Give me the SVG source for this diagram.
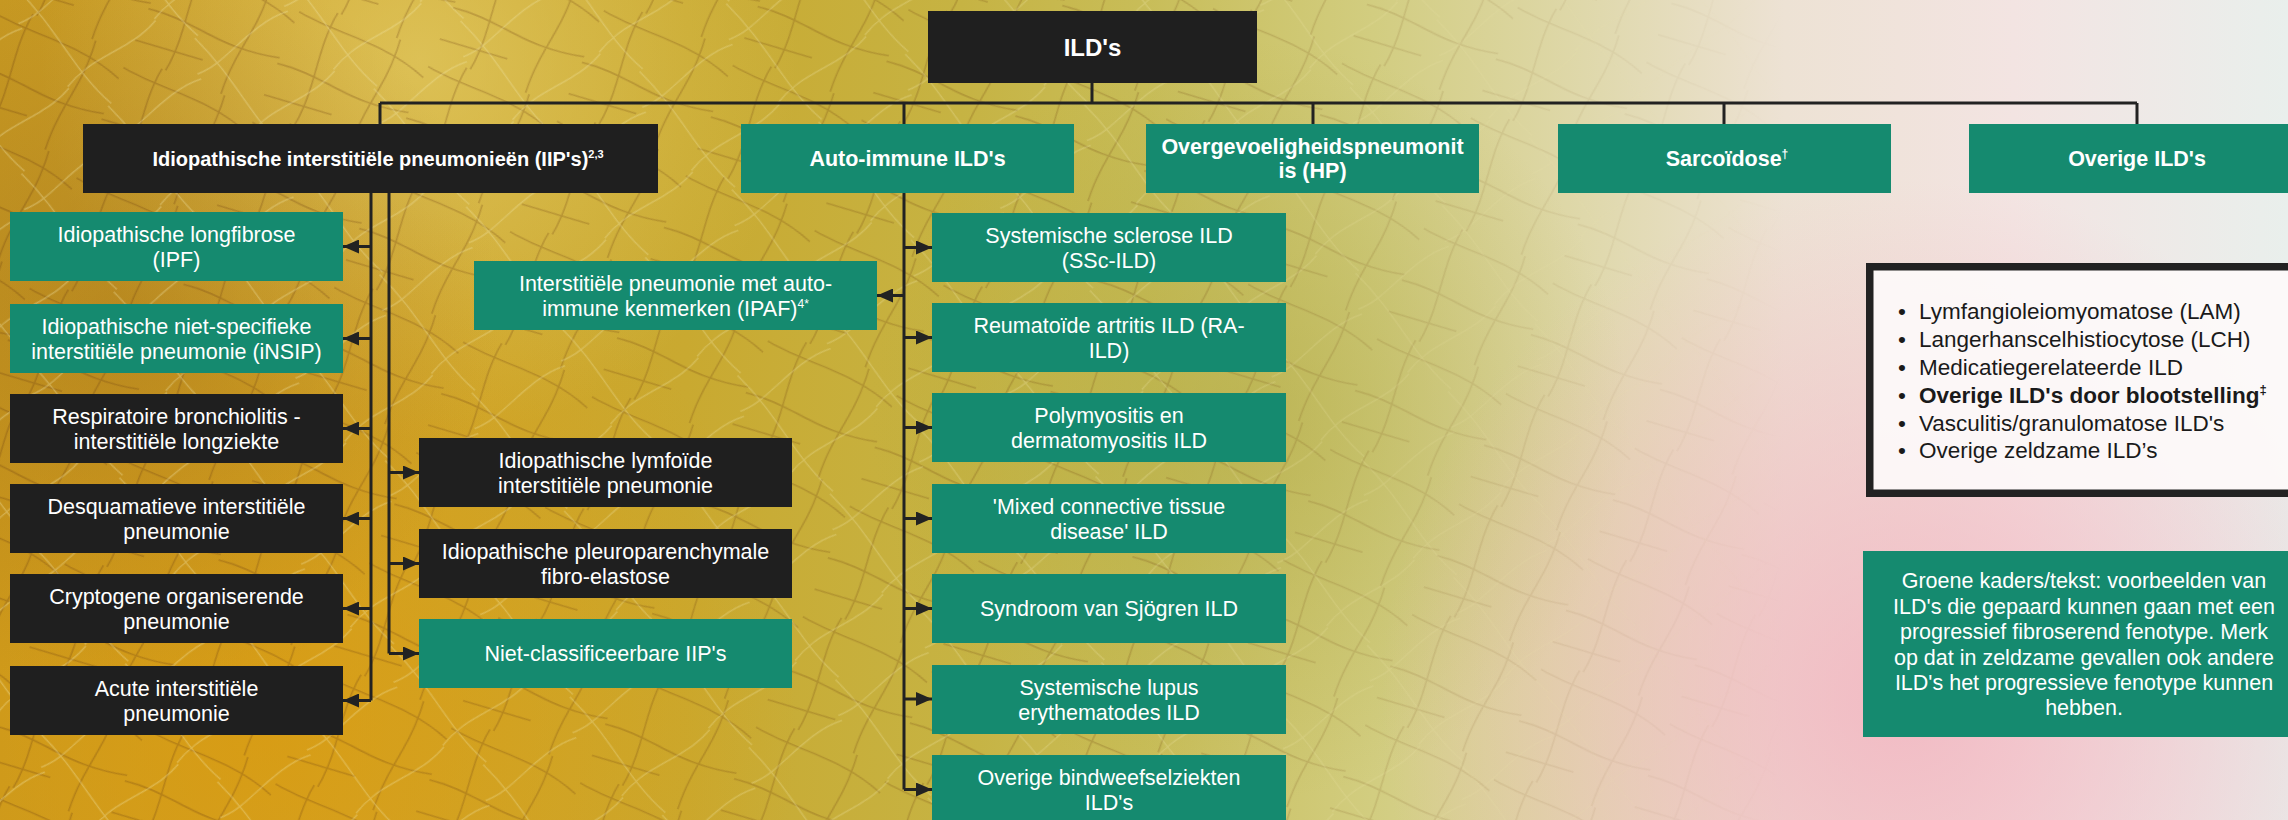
<svg xmlns="http://www.w3.org/2000/svg" width="2288" height="820" viewBox="0 0 2288 820">
<defs>
<style>
.t{font-family:"Liberation Sans",Arial,sans-serif;fill:#ffffff;font-size:21.5px;text-anchor:middle}
.b{font-weight:bold}
.g{fill:#158a6f}
.k{fill:#1f1f1f}
.c{stroke:#222222;stroke-width:3;fill:none}
.ca{stroke:#222222;stroke-width:3;fill:none;marker-end:url(#ah)}
.sup{font-size:12px}
.li{font-family:"Liberation Sans",Arial,sans-serif;fill:#1a1a1a;font-size:22.5px}
</style>
<marker id="ah" viewBox="0 0 16 14" refX="16" refY="7" markerWidth="16" markerHeight="14" markerUnits="userSpaceOnUse" orient="auto">
<path d="M0,0 L16,7 L0,14 z" fill="#222222"/>
</marker>
<linearGradient id="bg" x1="0" y1="0" x2="1" y2="0">
<stop offset="0" stop-color="#c89a22"/>
<stop offset="0.15" stop-color="#cfa52c"/>
<stop offset="0.3" stop-color="#c9a930"/>
<stop offset="0.42" stop-color="#c6b343"/>
<stop offset="0.5" stop-color="#c8bd58"/>
<stop offset="0.6" stop-color="#d2cd80"/>
<stop offset="0.7" stop-color="#e0d9ae"/>
<stop offset="0.78" stop-color="#ede2d4"/>
<stop offset="0.88" stop-color="#f3e4e2"/>
<stop offset="1" stop-color="#e9efec"/>
</linearGradient>
<radialGradient id="pink" cx="1900" cy="700" r="520" gradientUnits="userSpaceOnUse">
<stop offset="0" stop-color="#f2b4c0" stop-opacity="0.85"/>
<stop offset="1" stop-color="#f2b4c0" stop-opacity="0"/>
</radialGradient>
<radialGradient id="orange" cx="260" cy="720" r="540" gradientUnits="userSpaceOnUse">
<stop offset="0" stop-color="#dc9a0c" stop-opacity="0.7"/>
<stop offset="1" stop-color="#dc9a0c" stop-opacity="0"/>
</radialGradient>
<radialGradient id="brown" cx="120" cy="320" r="380" gradientUnits="userSpaceOnUse">
<stop offset="0" stop-color="#9a6a1c" stop-opacity="0.4"/>
<stop offset="1" stop-color="#9a6a1c" stop-opacity="0"/>
</radialGradient>
<radialGradient id="lighty" cx="420" cy="60" r="380" gradientUnits="userSpaceOnUse">
<stop offset="0" stop-color="#e6d270" stop-opacity="0.6"/>
<stop offset="1" stop-color="#e6d270" stop-opacity="0"/>
</radialGradient>
<radialGradient id="olive" cx="1250" cy="420" r="380" gradientUnits="userSpaceOnUse">
<stop offset="0" stop-color="#a9a238" stop-opacity="0.45"/>
<stop offset="1" stop-color="#a9a238" stop-opacity="0"/>
</radialGradient>
<pattern id="tex" width="140" height="120" patternUnits="userSpaceOnUse" patternTransform="rotate(23)">
<path d="M0,14 C40,20 90,8 140,26 M0,70 C50,62 80,80 140,64 M36,0 C30,40 46,80 40,120 M104,0 C110,50 96,70 100,120 M0,104 L70,96" stroke="#6e4010" stroke-width="1.6" fill="none" opacity="0.3"/>
</pattern>
<pattern id="tex2" width="110" height="150" patternUnits="userSpaceOnUse" patternTransform="rotate(-38)">
<path d="M0,30 C30,40 70,22 110,36 M20,0 C28,60 14,100 24,150 M0,110 C40,100 70,120 110,112" stroke="#f4e9b0" stroke-width="1.4" fill="none" opacity="0.35"/>
</pattern>
<linearGradient id="texfade" x1="0" y1="0" x2="1" y2="0">
<stop offset="0" stop-color="#ffffff" stop-opacity="1"/>
<stop offset="0.5" stop-color="#ffffff" stop-opacity="0.75"/>
<stop offset="0.78" stop-color="#ffffff" stop-opacity="0"/>
</linearGradient>
<mask id="texmask"><rect x="0" y="0" width="2288" height="820" fill="url(#texfade)"/></mask>
</defs>

<g id="background">
<rect x="0" y="0" width="2288" height="820" fill="url(#bg)"/>
<rect x="0" y="0" width="2288" height="820" fill="url(#lighty)"/>
<rect x="0" y="0" width="2288" height="820" fill="url(#olive)"/>
<rect x="0" y="0" width="2288" height="820" fill="url(#orange)"/>
<rect x="0" y="0" width="2288" height="820" fill="url(#brown)"/>
<rect x="0" y="0" width="2288" height="820" fill="url(#pink)"/>
<rect x="0" y="0" width="2288" height="820" fill="url(#tex)" mask="url(#texmask)"/>
<rect x="0" y="0" width="2288" height="820" fill="url(#tex2)" mask="url(#texmask)"/>
</g>

<g id="connectors">
<path class="c" d="M1092,83 V103"/>
<path class="c" d="M380,103 H2137"/>
<path class="c" d="M380,103 V124 M904,103 V124 M1313,103 V124 M1724,103 V124 M2137,103 V124"/>
<path class="c" d="M371,193 V700.5"/>
<path class="ca" d="M371,246.5 H343"/>
<path class="ca" d="M371,338.5 H343"/>
<path class="ca" d="M371,428.5 H343"/>
<path class="ca" d="M371,518.5 H343"/>
<path class="ca" d="M371,608.5 H343"/>
<path class="ca" d="M371,700.5 H343"/>
<path class="c" d="M389,193 V653.5"/>
<path class="ca" d="M389,472.5 H419"/>
<path class="ca" d="M389,563.5 H419"/>
<path class="ca" d="M389,653.5 H419"/>
<path class="c" d="M904,193 V789.5"/>
<path class="ca" d="M904,295.5 H877"/>
<path class="ca" d="M904,247.5 H932"/>
<path class="ca" d="M904,337.5 H932"/>
<path class="ca" d="M904,427.5 H932"/>
<path class="ca" d="M904,518.5 H932"/>
<path class="ca" d="M904,608.5 H932"/>
<path class="ca" d="M904,699 H932"/>
<path class="ca" d="M904,789.5 H932"/>
</g>

<g id="root">
<rect class="k" x="928" y="11" width="329" height="72"/>
<text class="t b" x="1092.5" y="56" style="font-size:24px">ILD's</text>
</g>

<g id="iip">
<rect class="k" x="83" y="124" width="575" height="69"/>
<text class="t b" x="378" y="165.5" style="font-size:20px">Idiopathische interstitiële pneumonieën (IIP's)<tspan style="font-size:11px" dy="-8">2,3</tspan></text>
</g>
<g id="auto">
<rect class="g" x="741" y="124" width="333" height="69"/>
<text class="t b" x="907.5" y="165.5">Auto-immune ILD's</text>
</g>
<g id="hp">
<rect class="g" x="1146" y="124" width="333" height="69"/>
<text class="t b" x="1312.5" y="153.5">Overgevoeligheidspneumonit</text>
<text class="t b" x="1312.5" y="177.5">is (HP)</text>
</g>
<g id="sarc">
<rect class="g" x="1558" y="124" width="333" height="69"/>
<text class="t b" x="1727" y="165.5">Sarcoïdose<tspan class="sup" dy="-8">†</tspan></text>
</g>
<g id="overige">
<rect class="g" x="1969" y="124" width="336" height="69"/>
<text class="t b" x="2137" y="165.5">Overige ILD's</text>
</g>

<g id="ipf">
<rect class="g" x="10" y="212" width="333" height="69"/>
<text class="t" x="176.5" y="242">Idiopathische longfibrose</text>
<text class="t" x="176.5" y="266.5">(IPF)</text>
</g>
<g id="insip">
<rect class="g" x="10" y="304" width="333" height="69"/>
<text class="t" x="176.5" y="334">Idiopathische niet-specifieke</text>
<text class="t" x="176.5" y="358.5">interstitiële pneumonie (iNSIP)</text>
</g>
<g id="rbild">
<rect class="k" x="10" y="394" width="333" height="69"/>
<text class="t" x="176.5" y="424">Respiratoire bronchiolitis -</text>
<text class="t" x="176.5" y="448.5">interstitiële longziekte</text>
</g>
<g id="dip">
<rect class="k" x="10" y="484" width="333" height="69"/>
<text class="t" x="176.5" y="514">Desquamatieve interstitiële</text>
<text class="t" x="176.5" y="538.5">pneumonie</text>
</g>
<g id="cop">
<rect class="k" x="10" y="574" width="333" height="69"/>
<text class="t" x="176.5" y="604">Cryptogene organiserende</text>
<text class="t" x="176.5" y="628.5">pneumonie</text>
</g>
<g id="aip">
<rect class="k" x="10" y="666" width="333" height="69"/>
<text class="t" x="176.5" y="696">Acute interstitiële</text>
<text class="t" x="176.5" y="720.5">pneumonie</text>
</g>

<g id="ilip">
<rect class="k" x="419" y="438" width="373" height="69"/>
<text class="t" x="605.5" y="468">Idiopathische lymfoïde</text>
<text class="t" x="605.5" y="492.5">interstitiële pneumonie</text>
</g>
<g id="ippfe">
<rect class="k" x="419" y="529" width="373" height="69"/>
<text class="t" x="605.5" y="559">Idiopathische pleuroparenchymale</text>
<text class="t" x="605.5" y="583.5">fibro-elastose</text>
</g>
<g id="niet">
<rect class="g" x="419" y="619" width="373" height="69"/>
<text class="t" x="605.5" y="661">Niet-classificeerbare IIP's</text>
</g>

<g id="ipaf">
<rect class="g" x="474" y="261" width="403" height="69"/>
<text class="t" x="675.5" y="291">Interstitiële pneumonie met auto-</text>
<text class="t" x="675.5" y="315.5">immune kenmerken (IPAF)<tspan class="sup" dy="-8">4*</tspan></text>
</g>

<g id="ssc">
<rect class="g" x="932" y="213" width="354" height="69"/>
<text class="t" x="1109" y="243">Systemische sclerose ILD</text>
<text class="t" x="1109" y="267.5">(SSc-ILD)</text>
</g>
<g id="ra">
<rect class="g" x="932" y="303" width="354" height="69"/>
<text class="t" x="1109" y="333">Reumatoïde artritis ILD (RA-</text>
<text class="t" x="1109" y="357.5">ILD)</text>
</g>
<g id="pm">
<rect class="g" x="932" y="393" width="354" height="69"/>
<text class="t" x="1109" y="423">Polymyositis en</text>
<text class="t" x="1109" y="447.5">dermatomyositis ILD</text>
</g>
<g id="mctd">
<rect class="g" x="932" y="484" width="354" height="69"/>
<text class="t" x="1109" y="514">'Mixed connective tissue</text>
<text class="t" x="1109" y="538.5">disease' ILD</text>
</g>
<g id="sjogren">
<rect class="g" x="932" y="574" width="354" height="69"/>
<text class="t" x="1109" y="616">Syndroom van Sjögren ILD</text>
</g>
<g id="sle">
<rect class="g" x="932" y="665" width="354" height="69"/>
<text class="t" x="1109" y="695">Systemische lupus</text>
<text class="t" x="1109" y="719.5">erythematodes ILD</text>
</g>
<g id="ctd">
<rect class="g" x="932" y="755" width="354" height="69"/>
<text class="t" x="1109" y="785">Overige bindweefselziekten</text>
<text class="t" x="1109" y="809.5">ILD's</text>
</g>

<g id="overige-list">
<rect x="1869.75" y="266.75" width="460" height="226.5" fill="#fdfafa" fill-opacity="0.92" stroke="#222222" stroke-width="7.5"/>
<text class="li" x="1898" y="319">•</text><text class="li" x="1919" y="319">Lymfangioleiomyomatose (LAM)</text>
<text class="li" x="1898" y="347">•</text><text class="li" x="1919" y="347">Langerhanscelhistiocytose (LCH)</text>
<text class="li" x="1898" y="375">•</text><text class="li" x="1919" y="375">Medicatiegerelateerde ILD</text>
<text class="li" x="1898" y="402.5">•</text><text class="li" x="1919" y="402.5" style="font-weight:bold">Overige ILD's door blootstelling<tspan style="font-size:13px" dy="-9">‡</tspan></text>
<text class="li" x="1898" y="430.5">•</text><text class="li" x="1919" y="430.5">Vasculitis/granulomatose ILD's</text>
<text class="li" x="1898" y="458">•</text><text class="li" x="1919" y="458">Overige zeldzame ILD’s</text>
</g>

<g id="legend">
<rect class="g" x="1863" y="551" width="442" height="186"/>
<text class="t" x="2084" y="588">Groene kaders/tekst: voorbeelden van</text>
<text class="t" x="2084" y="613.5">ILD's die gepaard kunnen gaan met een</text>
<text class="t" x="2084" y="639">progressief fibroserend fenotype. Merk</text>
<text class="t" x="2084" y="664.5">op dat in zeldzame gevallen ook andere</text>
<text class="t" x="2084" y="689.5">ILD's het progressieve fenotype kunnen</text>
<text class="t" x="2084" y="715">hebben.</text>
</g>
</svg>
